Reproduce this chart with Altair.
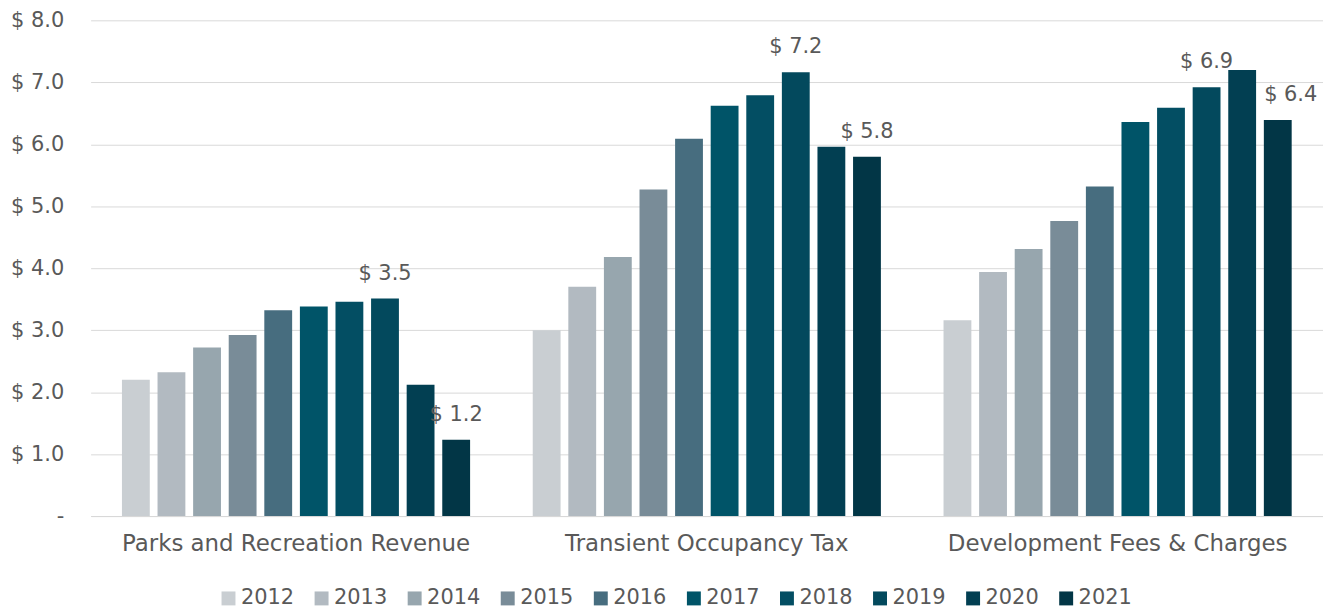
import altair as alt
import pandas as pd

categories = ["Parks and Recreation Revenue", "Transient Occupancy Tax", "Development Fees & Charges"]
years = ["2012", "2013", "2014", "2015", "2016", "2017", "2018", "2019", "2020", "2021"]
parks = [2.20, 2.32, 2.72, 2.92, 3.32, 3.38, 3.46, 3.51, 2.12, 1.23]
transient = [3.00, 3.70, 4.18, 5.27, 6.09, 6.62, 6.79, 7.16, 5.96, 5.80]
development = [3.16, 3.94, 4.31, 4.76, 5.32, 6.36, 6.59, 6.92, 7.20, 6.39]
labeled_years = ["2019", "2021"]
colors = ["#C9CED2", "#B2BAC1", "#97A6AE", "#798C98", "#476D7F",
          "#005468", "#034E63", "#03495D", "#023F52", "#023646"]

rows = []
for cat, vals in zip(categories, [parks, transient, development]):
    for y, v in zip(years, vals):
        rows.append({"category": cat, "year": y, "value": v,
                     "label": ("$ %.1f" % v) if y in labeled_years else ""})
df = pd.DataFrame(rows)

FONT = "DejaVu Sans"
TXT = "#595959"

base = alt.Chart(df).encode(
    x=alt.X("category:N", sort=categories, title=None,
            scale=alt.Scale(paddingInner=0, paddingOuter=0),
            axis=alt.Axis(labelAngle=0, labelFontSize=23, labelColor=TXT, labelFont=FONT,
                          labelLimit=0, ticks=False, domainColor="#D9D9D9", labelPadding=17)),
    xOffset=alt.XOffset("year:N", sort=years, scale=alt.Scale(paddingInner=0.218, paddingOuter=0.88)),
)

bars = base.mark_bar().encode(
    y=alt.Y("value:Q", title=None,
            scale=alt.Scale(domain=[0, 8]),
            axis=alt.Axis(values=[0, 1, 2, 3, 4, 5, 6, 7, 8],
                          labelExpr="datum.value == 0 ? '-' : '$ ' + format(datum.value, '.1f')",
                          labelFontSize=21, labelColor=TXT, labelFont=FONT,
                          ticks=False, domain=False, gridColor="#D9D9D9", labelPadding=27)),
    color=alt.Color("year:N", sort=years, scale=alt.Scale(domain=years, range=colors),
                    legend=alt.Legend(title=None, orient="none", legendX=128, legendY=570,
                                      direction="horizontal", columns=10,
                                      symbolType="square", symbolSize=196, labelFontSize=21,
                                      labelColor=TXT, labelFont=FONT, columnPadding=16.5,
                                      labelOffset=2, symbolStrokeWidth=0)),
)

is_shifted = "datum.category == 'Development Fees & Charges' && datum.year == '2021'"

text = base.mark_text(dy=-25, fontSize=21, color=TXT, font=FONT).encode(
    y=alt.Y("value:Q"),
    text="label:N",
).transform_filter("datum.label != '' && !(" + is_shifted + ")")

text_shifted = base.mark_text(dy=-25, dx=13, fontSize=21, color=TXT, font=FONT).encode(
    y=alt.Y("value:Q"),
    text="label:N",
).transform_filter("datum.label != '' && " + is_shifted)

chart = alt.layer(bars, text, text_shifted).properties(
    width=1238, height=498,
    padding={"left": 2, "top": 0, "right": 0, "bottom": 0},
).configure_view(stroke=None)

chart.save("out.html", embed_options={"renderer": "svg", "actions": False})
